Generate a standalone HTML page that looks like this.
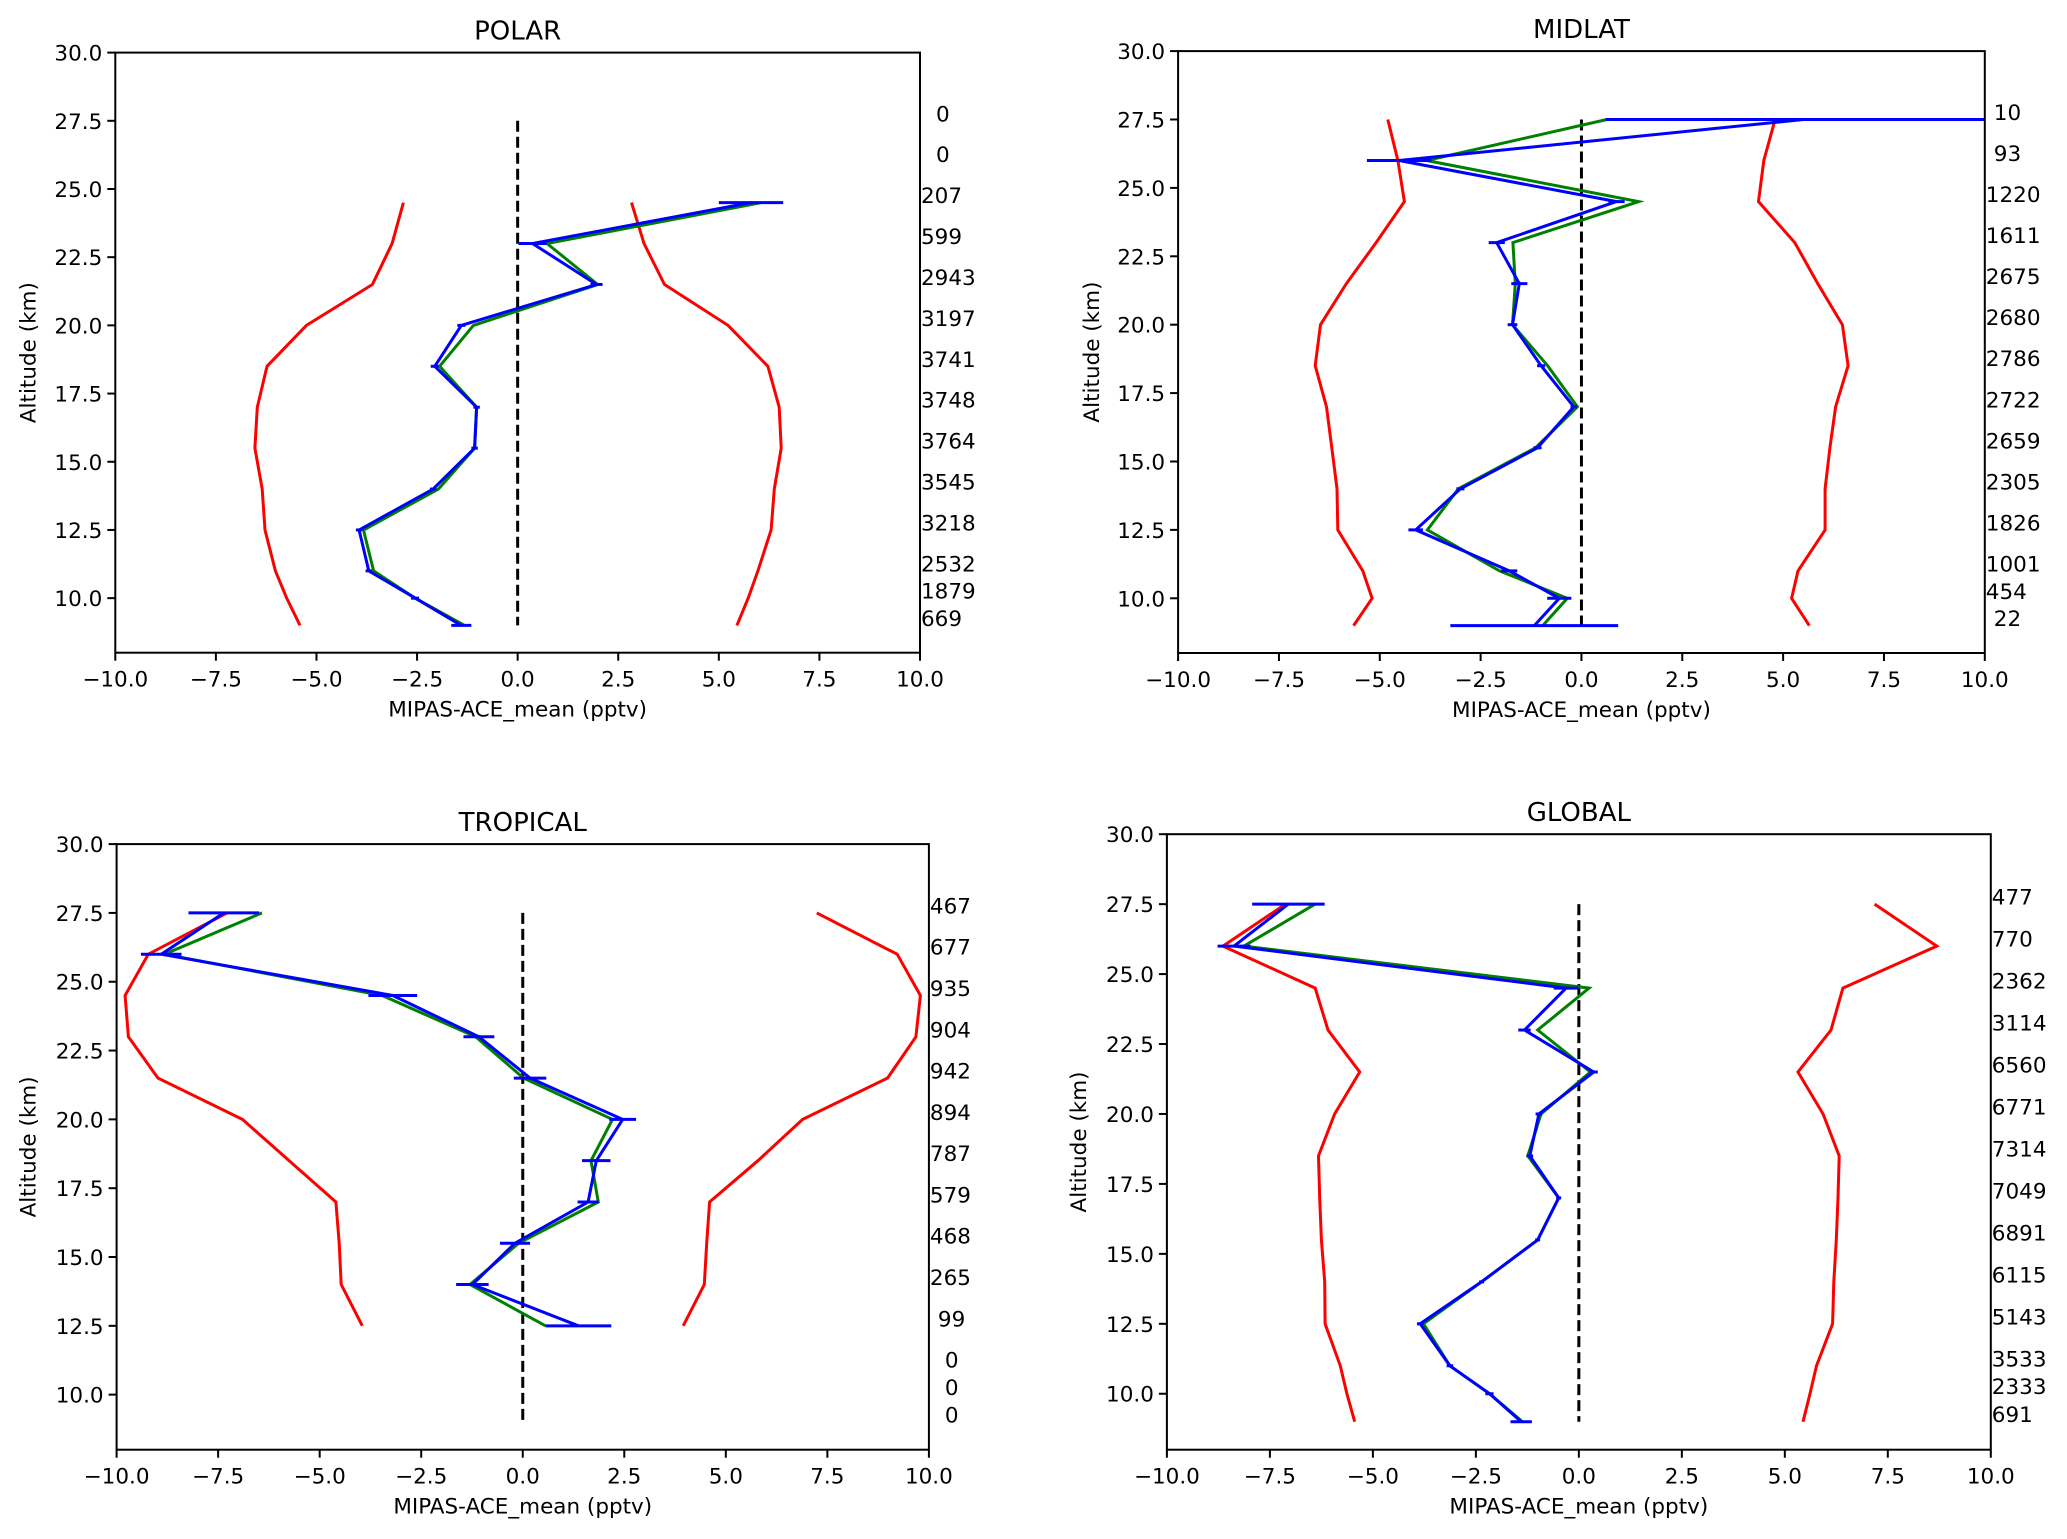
<!DOCTYPE html>
<html><head><meta charset="utf-8"><style>
html,body{margin:0;padding:0;background:#fff;}
svg{display:block;font-family:"DejaVu Sans","Liberation Sans",sans-serif;}
</style></head><body>
<svg id="fig" width="2067" height="1539" viewBox="0 0 2067 1539" xmlns="http://www.w3.org/2000/svg"></svg>
<script>
const alts = [27.5,26,24.5,23,21.5,20,18.5,17,15.5,14,12.5,11,10,9];
const xTicks = [-10,-7.5,-5,-2.5,0,2.5,5,7.5,10];
const yTicks = [10,12.5,15,17.5,20,22.5,25,27.5,30];

const polarCounts = ["0","0","207","599","2943","3197","3741","3748","3764","3545","3218","2532","1879","669"];
const polarRedL = [null,null,-2.84,-3.12,-3.61,-5.25,-6.23,-6.47,-6.53,-6.35,-6.28,-6.02,-5.74,-5.41];
const polarRedR = [null,null,2.83,3.14,3.65,5.23,6.22,6.5,6.55,6.38,6.3,5.97,5.73,5.45];
const polarBlue = [null,null,5.8,0.37,1.96,-1.4,-2.06,-1.02,-1.07,-2.1,-3.94,-3.7,-2.55,-1.4];
const polarErr = [null,null,0.8,0.35,0.15,0.1,0.1,0.08,0.08,0.08,0.08,0.08,0.1,0.25];
const polarGreen = [null,null,6.05,0.73,1.99,-1.1,-1.94,-1.02,-1.07,-1.97,-3.83,-3.58,-2.55,-1.32];

const midCounts = ["10","93","1220","1611","2675","2680","2786","2722","2659","2305","1826","1001","454","22"];
const midRedL = [-4.8,-4.55,-4.39,-5.09,-5.83,-6.47,-6.6,-6.32,-6.19,-6.06,-6.04,-5.42,-5.19,-5.65];
const midRedR = [4.8,4.52,4.39,5.29,5.86,6.47,6.61,6.3,6.16,6.04,6.04,5.37,5.21,5.65];
const midBlue = [5.5,-4.52,0.87,-2.1,-1.54,-1.71,-1.0,-0.19,-1.09,-3.0,-4.11,-1.79,-0.55,-1.17];
const midErr = [4.9,0.8,0.2,0.2,0.2,0.12,0.1,0.08,0.1,0.1,0.18,0.2,0.3,2.08];
const midGreen = [0.63,-3.84,1.42,-1.7,-1.64,-1.71,-0.84,-0.1,-1.14,-3.05,-3.82,-2.03,-0.35,-0.96];

const tropCounts = ["467","677","935","904","942","894","787","579","468","265","99","0","0","0"];
const tropRedL = [-7.28,-9.22,-9.79,-9.71,-8.98,-6.9,-5.75,-4.6,-4.52,-4.47,-3.95,null,null,null];
const tropRedR = [7.24,9.22,9.79,9.68,8.98,6.89,5.79,4.6,4.53,4.47,3.95,null,null,null];
const tropBlue = [-7.36,-8.9,-3.2,-1.08,0.18,2.46,1.81,1.61,-0.19,-1.24,1.37,null,null,null];
const tropErr = [0.87,0.5,0.6,0.38,0.4,0.33,0.35,0.26,0.37,0.4,0.81,null,null,null];
const tropGreen = [-6.42,-8.82,-3.46,-1.16,0.02,2.21,1.68,1.86,-0.1,-1.3,0.56,null,null,null];

const globCounts = ["477","770","2362","3114","6560","6771","7314","7049","6891","6115","5143","3533","2333","691"];
const globRedL = [-7.12,-8.64,-6.4,-6.09,-5.32,-5.93,-6.32,-6.29,-6.25,-6.17,-6.16,-5.79,-5.63,-5.44];
const globRedR = [7.18,8.69,6.41,6.12,5.32,5.93,6.32,6.29,6.25,6.19,6.16,5.77,5.61,5.44];
const globBlue = [-7.05,-8.37,-0.31,-1.32,0.36,-0.97,-1.19,-0.49,-1.0,-2.36,-3.85,-3.13,-2.17,-1.4];
const globErr = [0.88,0.4,0.3,0.15,0.1,0.08,0.08,0.06,0.06,0.06,0.08,0.08,0.1,0.26];
const globGreen = [-6.4,-8.13,0.25,-1.0,0.28,-0.92,-1.24,-0.49,-1.0,-2.36,-3.77,-3.13,-2.17,-1.37];

const NS = "http://www.w3.org/2000/svg";
const fig = document.getElementById('fig');
function el(tag, attrs, parent){
  const e = document.createElementNS(NS, tag);
  for (const k in attrs) e.setAttribute(k, attrs[k]);
  (parent||fig).appendChild(e);
  return e;
}
function txt(s, attrs, parent){
  const t = el('text', attrs, parent);
  t.textContent = s;
  return t;
}

const panels = [
  {key:'polar', title:'POLAR', L:115.3, R:920, T:52.6, B:652.7, ylx:27.7, counts:polarCounts, redL:polarRedL, redR:polarRedR, blue:polarBlue, err:polarErr, green:polarGreen, dashTo:9},
  {key:'midlat', title:'MIDLAT', L:1178.1, R:1984.8, T:51.1, B:653, ylx:1091, counts:midCounts, redL:midRedL, redR:midRedR, blue:midBlue, err:midErr, green:midGreen, dashTo:9},
  {key:'tropical', title:'TROPICAL', L:116.6, R:928.9, T:844.1, B:1449.7, ylx:27.7, counts:tropCounts, redL:tropRedL, redR:tropRedR, blue:tropBlue, err:tropErr, green:tropGreen, dashTo:9},
  {key:'global', title:'GLOBAL', L:1166.9, R:1990.8, T:834.2, B:1449.7, ylx:1078, counts:globCounts, redL:globRedL, redR:globRedR, blue:globBlue, err:globErr, green:globGreen, dashTo:9}
];

panels.forEach(p => {
  const g = el('g', {});
  
  
  const xs = v => p.L + (v + 10) / 20 * (p.R - p.L);
  const ys = v => p.B - (v - 8) / 22 * (p.B - p.T);

  const cid = 'clip-' + p.key;
  const cp = el('clipPath', {id: cid}, g);
  el('rect', {x:p.L, y:p.T, width:p.R-p.L, height:p.B-p.T}, cp);
  const plot = el('g', {'clip-path':'url(#'+cid+')'}, g);

  const dz = el('line', {x1:xs(0), x2:xs(0), y1:ys(alts[0]), y2:ys(p.dashTo), stroke:'#000', 'stroke-width':3, 'stroke-dasharray':'11,5'}, plot);
  
  

  function series(vals, color, name){
    const pts = [];
    vals.forEach((v,i) => { if (v !== null) pts.push(xs(v).toFixed(1)+','+ys(alts[i]).toFixed(1)); });
    const pl = el('polyline', {points:pts.join(' '), fill:'none', stroke:color, 'stroke-width':3, 'stroke-linejoin':'miter'}, plot);
    
    
  }
  series(p.redL, '#ff0000', 'red-lower-bound');
  series(p.redR, '#ff0000', 'red-upper-bound');
  series(p.green, '#008000', 'green-mean-line');
  series(p.blue, '#0000ff', 'blue-mean-line');
  p.blue.forEach((v,i) => {
    if (v === null) return;
    const e = el('line', {x1:xs(v - p.err[i]), x2:xs(v + p.err[i]), y1:ys(alts[i]), y2:ys(alts[i]), stroke:'#0000ff', 'stroke-width':3}, plot);
    
    
  });

  const fr = el('rect', {x:p.L, y:p.T, width:p.R-p.L, height:p.B-p.T, fill:'none', stroke:'#000', 'stroke-width':2}, g);
  
  

  xTicks.forEach(t => {
    const x = xs(t);
    el('line', {x1:x, x2:x, y1:p.B, y2:p.B+8, stroke:'#000', 'stroke-width':2}, g);
    const lab = txt((t<0?'\u2212':'') + Math.abs(t).toFixed(1), {x:x, y:p.B+34, 'font-size':21.5, 'text-anchor':'middle', fill:'#000'}, g);
    
    
  });
  yTicks.forEach(t => {
    const y = ys(t);
    el('line', {x1:p.L-8, x2:p.L, y1:y, y2:y, stroke:'#000', 'stroke-width':2}, g);
    const lab = txt(t.toFixed(1), {x:p.L-13, y:y+8, 'font-size':21.5, 'text-anchor':'end', fill:'#000'}, g);
    
    
  });

  p.counts.forEach((c,i) => {
    const off = c.length === 1 ? 15 : (c.length === 2 ? 8 : 0);
    const t = txt(c, {x:p.R + 1 + off, y:ys(alts[i]) - 7.5 + 8, 'font-size':21.5, fill:'#000'}, g);
    
    
  });

  const ti = txt(p.title, {x:(p.L+p.R)/2, y:p.T-13, 'font-size':26, 'text-anchor':'middle', fill:'#000'}, g);
  
  
  const xl = txt('MIPAS-ACE_mean (pptv)', {x:(p.L+p.R)/2, y:p.B+64, 'font-size':21.5, 'text-anchor':'middle', fill:'#000'}, g);
  
  
  const cy = (p.T+p.B)/2;
  const yl = txt('Altitude (km)', {x:p.ylx+8, y:cy, 'font-size':21.5, 'text-anchor':'middle', fill:'#000', transform:'rotate(-90 '+(p.ylx+8)+' '+cy+')'}, g);
  
  
});
</script>
</body></html>
